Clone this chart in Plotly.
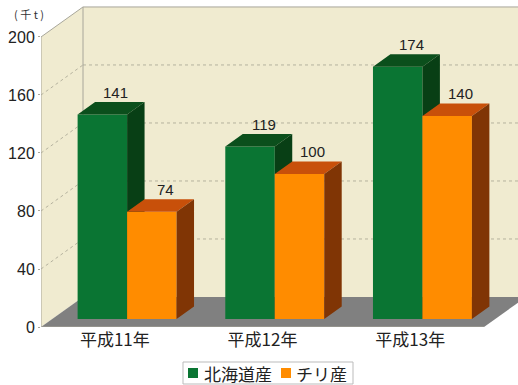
import plotly.graph_objects as go

categories = ["平成11年", "平成12年", "平成13年"]
hokkaido = [141, 119, 174]
chile = [74, 100, 140]
y_ticks = [0, 40, 80, 120, 160, 200]
series_names = ["北海道産", "チリ産"]

# Oblique projection: one unit of depth moves a point right and up in axis units
DEPTH_X = 0.2844
DEPTH_Y = 20.7
BAR_WIDTH = 0.335
BAR_NEAR = 0.267
BAR_FAR = 0.683
NUDGE = 0.007
NUM_FONT = "Liberation Sans, sans-serif"
CJK_FONT = "Noto Sans CJK JP, sans-serif"
WALL = "#F0EBD0"
FLOOR = "#808080"
EDGE = "#A8A69A"
GRID = "#B5B29E"
GREEN = "#0A7533"
ORANGE = "#FF8C00"
M_LEFT, M_BOTTOM, W, H = 41, 58, 518, 385


def paper_x(px):
    return (px - M_LEFT) / (W - M_LEFT)


def paper_y(py):
    return (H - M_BOTTOM - py) / (H - M_BOTTOM)


def proj(x, y, d):
    return x + d * DEPTH_X, y + d * DEPTH_Y


def poly(points):
    xs, ys = zip(*points)
    return "M" + " L".join(f"{a},{b}" for a, b in zip(xs, ys)) + " Z"


def seg(p, q, color, width=1, dash="solid"):
    return dict(type="line", x0=p[0], y0=p[1], x1=q[0], y1=q[1], layer="below",
                line=dict(color=color, width=width, dash=dash))


def area(path, color):
    return dict(type="path", path=path, fillcolor=color, layer="below", line=dict(width=0))


LEFT, RIGHT = -0.5, 2.5
shapes = [
    area(poly([proj(LEFT, 0, 1), proj(RIGHT, 0, 1), proj(RIGHT, 200, 1), proj(LEFT, 200, 1)]), WALL),
    area(poly([proj(LEFT, 0, 0), proj(LEFT, 0, 1), proj(LEFT, 200, 1), proj(LEFT, 200, 0)]), WALL),
    area(poly([proj(LEFT, 0, 0), proj(RIGHT, 0, 0), proj(RIGHT, 0, 1), proj(LEFT, 0, 1)]), FLOOR),
]
for t in y_ticks[1:-1]:
    shapes.append(seg(proj(LEFT, t, 0), proj(LEFT, t, 1), GRID, 1, "dot"))
    shapes.append(seg(proj(LEFT, t, 1), proj(RIGHT, t, 1), GRID, 1, "dot"))
shapes += [
    seg(proj(LEFT, 0, 1), proj(LEFT, 200, 1), EDGE),
    seg(proj(LEFT, 200, 1), proj(RIGHT, 200, 1), EDGE),
    seg(proj(LEFT, 200, 0), proj(LEFT, 200, 1), EDGE),
    seg(proj(LEFT, 0, 0), proj(LEFT, 200, 0), EDGE),
    seg(proj(LEFT, 0, 0), proj(RIGHT, 0, 0), EDGE),
]

fig = go.Figure()


def face_trace(paths, color, name):
    xs, ys = [], []
    for pts in paths:
        xs += [p[0] for p in pts] + [pts[0][0], None]
        ys += [p[1] for p in pts] + [pts[0][1], None]
    fig.add_trace(go.Scatter(x=xs, y=ys, mode="lines", fill="toself", fillcolor=color, name=name,
                             line=dict(width=0), hoverinfo="skip", showlegend=False))


annotations = []
for name, values, left_offset, front, top, side in [
    (series_names[0], hokkaido, -BAR_WIDTH, GREEN, "#0B4F1C", "#083F15"),
    (series_names[1], chile, 0.0, ORANGE, "#C8500A", "#803505"),
]:
    fronts, tops, sides = [], [], []
    for i, v in enumerate(values):
        a = i + left_offset + NUDGE
        b = a + BAR_WIDTH
        fronts.append([proj(a, 0, BAR_NEAR), proj(b, 0, BAR_NEAR), proj(b, v, BAR_NEAR), proj(a, v, BAR_NEAR)])
        tops.append([proj(a, v, BAR_NEAR), proj(b, v, BAR_NEAR), proj(b, v, BAR_FAR), proj(a, v, BAR_FAR)])
        sides.append([proj(b, 0, BAR_NEAR), proj(b, 0, BAR_FAR), proj(b, v, BAR_FAR), proj(b, v, BAR_NEAR)])
        lx, ly = proj((a + b) / 2, v, BAR_FAR)
        annotations.append(dict(x=lx, y=ly, text=str(v), showarrow=False, xshift=-4, yshift=0,
                                xanchor="center", yanchor="bottom", borderpad=0,
                                font=dict(family=NUM_FONT, size=15, color="#222222")))
    face_trace(fronts, front, name)
    face_trace(tops, top, name)
    face_trace(sides, side, name)

# Legend box drawn by hand so the swatches sit tight against their labels
shapes.append(dict(type="rect", xref="paper", yref="paper", layer="below",
                   x0=paper_x(183), x1=paper_x(353), y0=paper_y(384), y1=paper_y(362),
                   fillcolor="white", line=dict(color="#BBBBBB", width=1)))
for name, color, swatch_left, text_left in [
    (series_names[0], GREEN, 188, 203),
    (series_names[1], ORANGE, 281, 295),
]:
    shapes.append(dict(type="rect", xref="paper", yref="paper", layer="below",
                       x0=paper_x(swatch_left), x1=paper_x(swatch_left + 10),
                       y0=paper_y(378), y1=paper_y(368), fillcolor=color, line=dict(width=0)))
    annotations.append(dict(xref="paper", yref="paper", x=paper_x(text_left), y=paper_y(373),
                            text=name, showarrow=False, xanchor="left", yanchor="middle", borderpad=0,
                            font=dict(family=CJK_FONT, size=17, color="#222222")))

annotations.append(dict(xref="paper", yref="paper", x=paper_x(13), y=paper_y(14), text="( 千 t )",
                        showarrow=False, xanchor="left", yanchor="middle", borderpad=0,
                        font=dict(family=CJK_FONT, size=11, color="#333333")))

fig.update_layout(
    width=W, height=H, autosize=False,
    margin=dict(l=M_LEFT, r=0, t=0, b=M_BOTTOM, autoexpand=False),
    paper_bgcolor="white", plot_bgcolor="white",
    shapes=shapes, annotations=annotations,
    showlegend=False,
    xaxis=dict(range=[-0.5, 2.73], tickmode="array", tickvals=[0, 1, 2], ticktext=categories,
               showgrid=False, zeroline=False, ticks="", showline=False, ticklabelstandoff=1,
               automargin=False,
               tickfont=dict(family=CJK_FONT, size=17, color="#222222")),
    yaxis=dict(range=[0, 225.5], tickmode="array", tickvals=y_ticks,
               showgrid=False, zeroline=False, ticks="outside", ticklen=2, tickcolor=EDGE,
               showline=False, ticklabelstandoff=0, automargin=False,
               tickfont=dict(family=NUM_FONT, size=16, color="#222222")),
)

fig.write_html("out.html")
